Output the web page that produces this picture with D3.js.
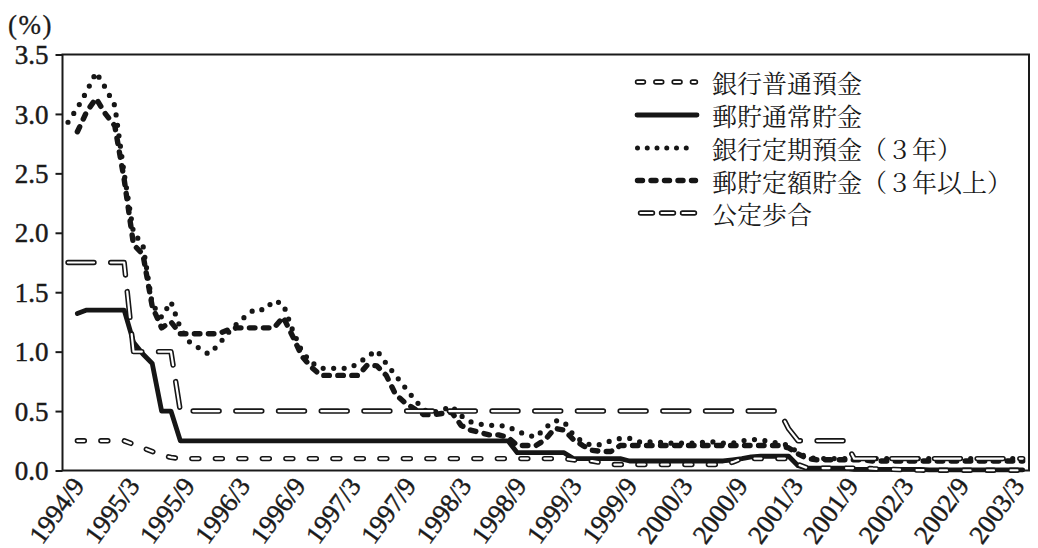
<!DOCTYPE html>
<html><head><meta charset="utf-8">
<script src="https://cdn.jsdelivr.net/npm/d3@7"></script>
<style>html,body{margin:0;padding:0;background:#fff}
.num{font-family:"Liberation Serif","DejaVu Serif",serif;}
.jp{font-family:"Noto Serif CJK JP","Noto Sans CJK JP","Noto Sans CJK SC",sans-serif;}
</style>
</head><body>
<svg id="chart" width="1038" height="548"></svg>
<script>
// ---- data (monthly, index 0 = 1994/9 ... 102 = 2003/3) ----
const tickLabels = ["1994/9","1995/3","1995/9","1996/3","1996/9","1997/3","1997/9","1998/3","1998/9",
  "1999/3","1999/9","2000/3","2000/9","2001/3","2001/9","2002/3","2002/9","2003/3"];
const tickIndex = [0,6,12,18,24,30,36,42,48,54,60,66,72,78,84,90,96,102];
const yTicks = [0,0.5,1.0,1.5,2.0,2.5,3.0,3.5];

const seriesNames = ["銀行普通預金","郵貯通常貯金","銀行定期預金（３年）","郵貯定額貯金（３年以上）","公定歩合"];

// 銀行普通預金
const bankOrdinary = [null,
  0.25,0.25,0.25,0.25,0.25,0.25,
  0.22,0.19,0.16,0.13,0.11,
  0.10,0.10,0.10,0.10,0.10,0.10,0.10,0.10,0.10,0.10,0.10,0.10,0.10,0.10,0.10,0.10,0.10,0.10,0.10,0.10,0.10,
  0.10,0.10,0.10,0.10,0.10,0.10,0.10,0.10,0.10,0.10,0.10,0.10,0.10,0.10,0.10,0.10,0.10,0.10,0.10,0.10,0.10,
  0.09,0.08,0.08,0.065,
  0.05,0.05,0.05,0.05,0.05,0.05,0.05,0.05,0.05,0.05,0.05,0.05,0.05,
  0.07,
  0.10,0.10,0.10,0.10,0.10,0.10,
  0.05,
  0.02,0.02,0.02,0.02,0.02,0.02,0.02,
  0.015,0.012,0.01,0.007,0.005,0.003,
  0.002,0.002,0.002,0.002,0.002,0.002,0.002,0.002,0.002,0.002,0.002];

// 郵貯通常貯金
const postalOrdinary = [null,
  1.32,
  1.35,1.35,1.35,1.35,1.35,
  1.08,0.98,0.90,0.50,0.50,
  0.25,0.25,0.25,0.25,0.25,0.25,0.25,0.25,0.25,0.25,0.25,0.25,0.25,0.25,0.25,0.25,0.25,0.25,
  0.25,0.25,0.25,0.25,0.25,0.25,0.25,0.25,0.25,0.25,0.25,0.25,0.25,0.25,0.25,0.25,0.25,0.25,
  0.15,0.15,0.15,0.15,0.15,0.15,
  0.10,0.10,0.10,0.10,0.10,0.10,
  0.08,0.08,0.08,0.08,0.08,0.08,0.08,0.08,0.08,0.08,0.08,
  0.09,0.10,0.115,
  0.12,0.12,0.12,0.12,
  0.04,
  0.02,0.02,0.02,0.02,0.02,
  0.01,0.01,0.01,0.01,0.01,0.01,0.01,0.01,
  0.005,0.005,0.005,0.005,0.005,0.005,0.005,0.005,0.005,0.005,0.005];

// 銀行定期預金（3年）
const bankTime3y = [
  2.93,3.05,3.19,3.35,3.22,3.07,2.50,2.00,1.90,1.40,1.29,1.42,
  1.20,1.08,1.03,0.98,1.05,1.15,1.23,1.30,1.36,1.35,1.43,1.40,
  1.18,1.00,0.91,0.86,0.86,0.86,0.86,0.90,0.96,1.01,0.90,0.80,
  0.70,0.60,0.51,0.49,0.51,0.54,0.46,0.41,0.39,0.38,0.38,0.37,
  0.33,0.30,0.28,0.36,0.42,0.41,0.30,0.24,0.21,0.22,0.25,0.27,
  0.27,0.24,0.24,0.24,0.23,0.23,0.23,0.23,0.24,0.24,0.23,0.23,
  0.25,0.26,0.26,0.24,0.23,0.21,0.15,0.11,
  0.10,0.10,0.10,0.10,0.10,0.10,0.10,0.10,0.10,0.10,0.10,0.10,
  0.10,0.10,0.10,0.10,0.10,0.10,0.10,0.10,0.10,0.10,0.10];

// 郵貯定額貯金（3年以上）
const postalFixed = [null,
  2.85,3.02,3.13,3.00,2.90,2.45,1.90,1.82,1.38,1.20,1.25,
  1.15,1.15,1.15,1.15,1.15,
  1.18,
  1.20,1.20,1.20,1.20,1.20,
  1.29,1.13,0.96,0.87,
  0.80,0.80,0.80,0.80,0.80,
  0.89,0.88,0.80,0.64,0.57,0.52,0.47,0.47,0.48,0.49,0.38,0.34,0.32,0.30,0.30,0.28,
  0.21,0.21,0.21,0.26,0.355,0.34,0.26,0.21,0.17,0.16,0.16,0.21,
  0.21,0.21,0.21,0.21,0.21,0.21,0.21,0.21,0.21,0.21,0.21,0.21,0.21,0.21,0.21,0.21,0.21,
  0.19,0.14,0.10,
  0.09,0.09,0.09,0.09,0.09,0.09,
  0.08,0.08,0.08,0.08,0.08,0.08,0.08,0.08,0.08,0.08,0.08,0.08,0.08,0.08,0.08,0.08,0.08];

// 公定歩合
const discountRate = [
  1.75,1.75,1.75,1.75,1.75,1.75,1.75,
  1.0,1.0,1.0,1.0,1.0,
  0.5,0.5,0.5,0.5,0.5,0.5,0.5,0.5,0.5,0.5,0.5,0.5,0.5,0.5,0.5,0.5,0.5,0.5,0.5,0.5,0.5,0.5,
  0.5,0.5,0.5,0.5,0.5,0.5,0.5,0.5,0.5,0.5,0.5,0.5,0.5,0.5,0.5,0.5,0.5,0.5,0.5,0.5,0.5,0.5,
  0.5,0.5,0.5,0.5,0.5,0.5,0.5,0.5,0.5,0.5,0.5,0.5,0.5,0.5,0.5,0.5,0.5,0.5,0.5,0.5,0.5,
  0.35,
  0.25,0.25,0.25,0.25,0.25,0.25,
  0.1,0.1,0.1,0.1,0.1,0.1,0.1,0.1,0.1,0.1,0.1,0.1,0.1,0.1,0.1,0.1,0.1,0.1,0.1];

// ---- drawing ----
const svg = d3.select("#chart");

const x = d3.scaleLinear().domain([0, 102]).range([68, 1022.7]);
// label anchor positions of the rotated month labels
const xLabel = d3.scaleLinear().domain([0, 102]).range([85, 1025]);
const y = d3.scaleLinear().domain([0, 3.5]).range([470.5, 54.5]);
const plot = {left: 62.5, right: 1029, top: 54.5, bottom: 470.5};
const ink = "#161616";

// frame
svg.append("rect")
  .attr("x", plot.left).attr("y", plot.top)
  .attr("width", plot.right - plot.left).attr("height", plot.bottom - plot.top)
  .attr("fill", "none").attr("stroke", "#1a1a1a").attr("stroke-width", 2);

// y axis
const yAxis = svg.append("g")
  .attr("transform", `translate(${plot.left},0)`)
  .call(d3.axisLeft(y).tickValues(yTicks).tickSize(7).tickPadding(7).tickFormat(d3.format(".1f")))
  .attr("font-family", null).attr("font-size", null);
yAxis.select(".domain").remove();
yAxis.selectAll(".tick line").attr("stroke", "#1a1a1a").attr("stroke-width", 2);
yAxis.selectAll(".tick text").attr("class", "num")
  .style("font-size", "27px").attr("fill", "#1a1a1a")
  .attr("stroke", "#1a1a1a").attr("stroke-width", 0.45)
  .attr("dy", "0.34em");

// x axis labels
const xAxis = svg.append("g")
  .attr("transform", `translate(0,${plot.bottom})`)
  .call(d3.axisBottom(xLabel).tickValues(tickIndex).tickSize(0).tickFormat((d, k) => tickLabels[k]))
  .attr("font-family", null).attr("font-size", null);
xAxis.select(".domain").remove();
xAxis.selectAll(".tick text").attr("class", "num")
  .style("font-size", "26.5px").attr("fill", "#1a1a1a")
  .attr("stroke", "#1a1a1a").attr("stroke-width", 0.45)
  .attr("text-anchor", "end").attr("x", 0).attr("y", 0).attr("dy", 0)
  .attr("transform", "translate(0,15.5) rotate(-54)");

// y unit
svg.append("text").attr("class", "num").attr("x", 8).attr("y", 34)
  .style("font-size", "27px").attr("letter-spacing", 1.5)
  .attr("fill", "#1a1a1a").attr("stroke", "#1a1a1a").attr("stroke-width", 0.3)
  .text("(%)");

const line = d3.line()
  .defined(d => d != null)
  .x((d, i) => x(i))
  .y(d => y(d));

function drawSolid(data, w, dash) {
  svg.append("path").datum(data).attr("d", line)
    .attr("fill", "none").attr("stroke", ink).attr("stroke-width", w)
    .attr("stroke-linecap", "round").attr("stroke-linejoin", "round")
    .attr("stroke-dasharray", dash || null);
}
function drawHollow(data, dash) {
  const g = svg.append("g");
  g.append("path").datum(data).attr("d", line)
    .attr("fill", "none").attr("stroke", ink).attr("stroke-width", 5.4)
    .attr("stroke-linecap", "round").attr("stroke-linejoin", "round")
    .attr("stroke-dasharray", dash);
  g.append("path").datum(data).attr("d", line)
    .attr("fill", "none").attr("stroke", "#fff").attr("stroke-width", 2.2)
    .attr("stroke-linecap", "round").attr("stroke-linejoin", "round")
    .attr("stroke-dasharray", dash);
}

drawSolid(postalOrdinary, 4.8);
drawSolid(postalFixed, 5.4, "5.5,8.5");
drawSolid(bankTime3y, 5.2, "0,10.5");
drawHollow(bankOrdinary, "7,16.5");
drawHollow(discountRate, "26,16.7");

// legend
const legendRows = [82, 115, 148, 180.5, 213];
const lg = svg.append("g");
function legendLine(yy, x1, x2, w, dash, color) {
  lg.append("line").attr("x1", x1).attr("x2", x2).attr("y1", yy).attr("y2", yy)
    .attr("stroke", color || ink).attr("stroke-width", w)
    .attr("stroke-linecap", "round").attr("stroke-dasharray", dash || null);
}
legendLine(legendRows[0], 637.5, 695.5, 5.4, "6,12.3");
legendLine(legendRows[0], 637.5, 695.5, 2.2, "6,12.3", "#fff");
legendLine(legendRows[1], 637, 697, 4.8);
legendLine(legendRows[2], 637.5, 696, 5, "0,9.75");
legendLine(legendRows[3], 637.5, 695.5, 5.4, "5,8.5");
legendLine(legendRows[4], 640.5, 694.5, 5.4, "12,9");
legendLine(legendRows[4], 640.5, 694.5, 2.2, "12,9", "#fff");

seriesNames.forEach((n, k) => {
  lg.append("text").attr("class", "jp").attr("x", 712).attr("y", legendRows[k])
    .attr("dominant-baseline", "central")
    .style("font-size", "25px").attr("fill", "#1a1a1a")
    .text(n);
});
</script>
</body></html>
